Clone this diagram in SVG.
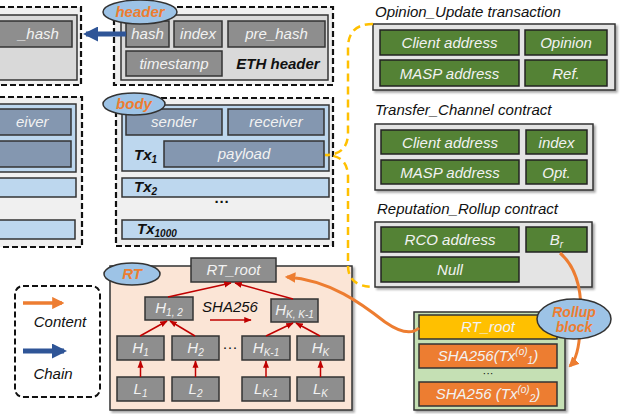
<svg xmlns="http://www.w3.org/2000/svg" width="625" height="414" viewBox="0 0 625 414">
<defs>
<filter id="sh" x="-10%" y="-10%" width="130%" height="140%"><feDropShadow dx="2" dy="2" stdDeviation="1.2" flood-color="#000" flood-opacity="0.35"/></filter>
<marker id="mBlue" viewBox="0 0 10 10" refX="8" refY="5" markerWidth="3" markerHeight="3" orient="auto"><path d="M0,0 L10,5 L0,10 z" fill="#2F5597"/></marker>
<marker id="mOr" viewBox="0 0 10 10" refX="8" refY="5" markerWidth="3.5" markerHeight="3.5" orient="auto"><path d="M0,0 L10,5 L0,10 z" fill="#ED7D31"/></marker>
<marker id="mRed" viewBox="0 0 10 10" refX="9" refY="5" markerWidth="5" markerHeight="5" orient="auto"><path d="M0,1 L10,5 L0,9 z" fill="#C00000"/></marker>
</defs>
<style>
.dash{fill:#F0F0F0;stroke:#111;stroke-width:2.2;stroke-dasharray:6,3}
.gp{fill:#D9D9D9;stroke:#333;stroke-width:1.5}
.gbox{fill:#8E8E8E;stroke:#333;stroke-width:1.5}
.bbox{fill:#8497B0;stroke:#333;stroke-width:1.5}
.lb{fill:#BDD7EE;stroke:#333;stroke-width:1.5}
.grn{fill:#548235;stroke:#222;stroke-width:1.5}
.pan{fill:#E4E4E4;stroke:#333;stroke-width:1.5}
.ell{fill:#9DC3E6;stroke:#333;stroke-width:1.5}
text{font-family:"Liberation Sans",Arial,sans-serif;font-size:15px;font-style:italic}
.wt{fill:#F2F2F2;text-anchor:middle}
.bk{fill:#111}
.bd{font-weight:bold;fill:#111}
.el{font-weight:bold;fill:#ED7D31;text-anchor:middle}
.red{stroke:#C00000;stroke-width:1.5;fill:none;marker-end:url(#mRed)}
.sub{font-size:10px}
</style>

<!-- left partial block (header) -->
<g id="prev-header">
<rect class="dash" x="-10" y="7" width="91" height="78"/>
<rect class="gp" x="-10" y="15" width="87" height="65"/>
<rect class="gbox" x="-25" y="21" width="97" height="26"/>
<text class="wt" x="18" y="39" text-anchor="start" style="text-anchor:start">_hash</text>
</g>
<!-- left partial block (body) -->
<g id="prev-body">
<rect class="dash" x="-10" y="97" width="92" height="150"/>
<rect class="lb" x="-10" y="104" width="86" height="68"/>
<rect class="bbox" x="-26" y="109" width="97" height="26"/>
<text class="wt" x="16" y="127" style="text-anchor:start">eiver</text>
<rect class="bbox" x="-90" y="141" width="161" height="26"/>
<rect class="lb" x="-10" y="178" width="86" height="19"/>
<rect class="lb" x="-10" y="220" width="85" height="19"/>
</g>

<!-- header block -->
<g id="header">
<rect class="dash" x="114" y="7" width="219" height="78"/>
<rect class="gp" x="121" y="15" width="207" height="65"/>
<rect class="gbox" x="126" y="21" width="43" height="26"/>
<text class="wt" x="147.5" y="39">hash</text>
<rect class="gbox" x="174" y="21" width="48" height="26"/>
<text class="wt" x="198" y="39">index</text>
<rect class="gbox" x="228" y="21" width="97" height="26"/>
<text class="wt" x="276.5" y="39">pre_hash</text>
<rect class="gbox" x="126" y="51" width="96" height="25"/>
<text class="wt" x="174" y="68.5">timestamp</text>
<text class="bd" x="278" y="69" text-anchor="middle">ETH header</text>
<ellipse class="ell" cx="140" cy="12" rx="37" ry="12"/>
<text class="el" x="140" y="17">header</text>
</g>

<!-- body block -->
<g id="body">
<rect class="dash" x="116" y="98" width="217" height="148"/>
<rect class="lb" x="122" y="105" width="207" height="66"/>
<rect class="bbox" x="126" y="109" width="96" height="26"/>
<text class="wt" x="174" y="127">sender</text>
<rect class="bbox" x="228" y="109" width="96" height="26"/>
<text class="wt" x="276" y="127">receiver</text>
<rect class="bbox" x="164" y="141" width="160" height="26"/>
<text class="wt" x="244" y="159">payload</text>
<text class="bd" x="134" y="160">Tx<tspan class="sub" dy="3">1</tspan></text>
<rect class="lb" x="122" y="178" width="207" height="19"/>
<text class="bd" x="134" y="192">Tx<tspan class="sub" dy="3">2</tspan></text>
<text class="bd" x="222" y="207" text-anchor="middle" style="font-style:normal">···</text>
<rect class="lb" x="122" y="220" width="207" height="19"/>
<text class="bd" x="137" y="234">Tx<tspan class="sub" dy="3">1000</tspan></text>
<ellipse class="ell" cx="134" cy="104" rx="31" ry="11"/>
<text class="el" x="134" y="109">body</text>
</g>

<!-- RT merkle tree -->
<g id="rt">
<rect x="110" y="266" width="242" height="144" fill="#FBE5D6" stroke="#333" stroke-width="1.5" filter="url(#sh)"/>
<ellipse class="ell" cx="132" cy="274" rx="28" ry="11"/>
<text class="el" x="132" y="279">RT</text>
<rect class="gbox" x="191" y="258" width="85" height="24"/>
<text class="wt" x="233.5" y="275">RT_root</text>
<rect class="gbox" x="145" y="297" width="48" height="23"/>
<text class="wt" x="169" y="313">H<tspan class="sub" dy="3">1, 2</tspan></text>
<rect class="gbox" x="271" y="299" width="47" height="23"/>
<text class="wt" x="294.5" y="315">H<tspan class="sub" dy="3">K, K-1</tspan></text>
<text class="bk" x="230" y="312" text-anchor="middle">SHA256</text>
<rect class="gbox" x="117" y="336" width="47" height="24"/>
<text class="wt" x="140.5" y="353">H<tspan class="sub" dy="3">1</tspan></text>
<rect class="gbox" x="172" y="336" width="47" height="24"/>
<text class="wt" x="195.5" y="353">H<tspan class="sub" dy="3">2</tspan></text>
<text class="bk" x="230" y="352" text-anchor="middle" style="font-style:normal">···</text>
<rect class="gbox" x="242" y="336" width="48" height="24"/>
<text class="wt" x="266" y="353">H<tspan class="sub" dy="3">K-1</tspan></text>
<rect class="gbox" x="297" y="336" width="47" height="24"/>
<text class="wt" x="320.5" y="353">H<tspan class="sub" dy="3">K</tspan></text>
<rect class="gbox" x="117" y="377" width="47" height="24"/>
<text class="wt" x="140.5" y="394">L<tspan class="sub" dy="3">1</tspan></text>
<rect class="gbox" x="172" y="377" width="47" height="24"/>
<text class="wt" x="195.5" y="394">L<tspan class="sub" dy="3">2</tspan></text>
<rect class="gbox" x="242" y="377" width="48" height="24"/>
<text class="wt" x="266" y="394">L<tspan class="sub" dy="3">K-1</tspan></text>
<rect class="gbox" x="297" y="377" width="47" height="24"/>
<text class="wt" x="320.5" y="394">L<tspan class="sub" dy="3">K</tspan></text>
</g>

<!-- legend -->
<g id="legend">
<rect x="15" y="286" width="85" height="111" rx="8" fill="#fff" stroke="#111" stroke-width="2" stroke-dasharray="6,3"/>
<line x1="23" y1="303" x2="62" y2="303" stroke="#ED7D31" stroke-width="3.5" marker-end="url(#mOr)"/>
<text class="bk" x="60" y="327" text-anchor="middle">Content</text>
<line x1="23" y1="351" x2="64" y2="351" stroke="#2F5597" stroke-width="5" marker-end="url(#mBlue)"/>
<text class="bk" x="53" y="379" text-anchor="middle">Chain</text>
</g>

<!-- Opinion_Update transaction -->
<g id="opinion">
<text class="bk" x="375" y="17">Opinion_Update transaction</text>
<rect class="pan" x="373" y="24" width="242" height="66" filter="url(#sh)"/>
<rect class="grn" x="380" y="30" width="139" height="25"/>
<text class="wt" x="449.5" y="48">Client address</text>
<rect class="grn" x="525" y="30" width="82" height="25"/>
<text class="wt" x="566" y="48">Opinion</text>
<rect class="grn" x="380" y="60" width="139" height="26"/>
<text class="wt" x="449.5" y="78.5">MASP address</text>
<rect class="grn" x="525" y="60" width="82" height="26"/>
<text class="wt" x="566" y="78.5">Ref.</text>
</g>

<!-- Transfer_Channel contract -->
<g id="transfer">
<text class="bk" x="375" y="115">Transfer_Channel contract</text>
<rect class="pan" x="375" y="124" width="218" height="66" filter="url(#sh)"/>
<rect class="grn" x="381" y="130" width="138" height="24"/>
<text class="wt" x="450" y="147.5">Client address</text>
<rect class="grn" x="526" y="130" width="61" height="24"/>
<text class="wt" x="556.5" y="147.5">index</text>
<rect class="grn" x="381" y="160" width="138" height="24"/>
<text class="wt" x="450" y="177.5">MASP address</text>
<rect class="grn" x="526" y="160" width="61" height="24"/>
<text class="wt" x="556.5" y="177.5">Opt.</text>
</g>

<!-- Reputation_Rollup contract -->
<g id="reputation">
<text class="bk" x="377" y="214">Reputation_Rollup contract</text>
<rect class="pan" x="375" y="222" width="217" height="65" filter="url(#sh)"/>
<rect class="grn" x="381" y="227" width="138" height="25"/>
<text class="wt" x="450" y="245">RCO address</text>
<rect class="grn" x="526" y="227" width="61" height="25"/>
<text class="wt" x="556.5" y="245">B<tspan class="sub" dy="3">r</tspan></text>
<rect class="grn" x="381" y="257" width="138" height="25"/>
<text class="wt" x="450" y="275">Null</text>
</g>

<!-- Rollup block -->
<g id="rollup">
<rect x="414" y="312" width="151" height="98" fill="#C5E0B4" stroke="#333" stroke-width="1.5" filter="url(#sh)"/>
<rect x="419" y="315" width="138" height="24" fill="#FFC000" stroke="#333" stroke-width="1.5"/>
<text class="wt" x="488" y="332">RT_root</text>
<rect x="419" y="344" width="138" height="24" fill="#ED7D31" stroke="#333" stroke-width="1.5"/>
<text class="wt" x="488" y="361">SHA256(Tx<tspan class="sub" dy="-6">(o)</tspan><tspan class="sub" dy="9">1</tspan><tspan dy="-3">)</tspan></text>
<text class="bk" x="488" y="377" text-anchor="middle" style="font-size:11px;font-style:normal">···</text>
<rect x="419" y="382" width="138" height="24" fill="#ED7D31" stroke="#333" stroke-width="1.5"/>
<text class="wt" x="488" y="399">SHA256 (Tx<tspan class="sub" dy="-6">(o)</tspan><tspan class="sub" dy="9">2</tspan><tspan dy="-3">)</tspan></text>
</g>

<!-- connectors -->
<g id="connectors">
<line x1="126" y1="34" x2="86" y2="34" stroke="#2F5597" stroke-width="5" marker-end="url(#mBlue)"/>
<path d="M373,24 Q348,24 348,48 L348,133 Q348,155 325,155 Q348,155 348,177 L348,266 Q348,287 375,287" fill="none" stroke="#FFC000" stroke-width="2.5" stroke-dasharray="8,5"/>
<path d="M419,328 Q408,338 385,322 C362,304 330,280 287,277" fill="none" stroke="#ED7D31" stroke-width="3" marker-end="url(#mOr)"/>
<path d="M560,253 C580,270 583,300 580,330 C579,350 576,360 570,366" fill="none" stroke="#ED7D31" stroke-width="3" marker-end="url(#mOr)"/>
<line class="red" x1="210" y1="320" x2="251" y2="320"/>
<line class="red" x1="140.5" y1="377" x2="140.5" y2="361"/>
<line class="red" x1="195.5" y1="377" x2="195.5" y2="361"/>
<line class="red" x1="266" y1="377" x2="266" y2="361"/>
<line class="red" x1="320.5" y1="377" x2="320.5" y2="361"/>
<line class="red" x1="140" y1="336" x2="167" y2="321"/>
<line class="red" x1="195" y1="336" x2="170" y2="321"/>
<line class="red" x1="266" y1="336" x2="293" y2="323"/>
<line class="red" x1="320" y1="336" x2="296" y2="323"/>
<line class="red" x1="168" y1="297" x2="231" y2="283"/>
<line class="red" x1="293" y1="299" x2="235" y2="283"/>
</g>

<g id="rollup-label">
<ellipse class="ell" cx="574" cy="319" rx="37" ry="20"/>
<text class="el" x="574" y="317" style="font-size:14px">Rollup</text>
<text class="el" x="574" y="332" style="font-size:14px">block</text>
</g>
</svg>
